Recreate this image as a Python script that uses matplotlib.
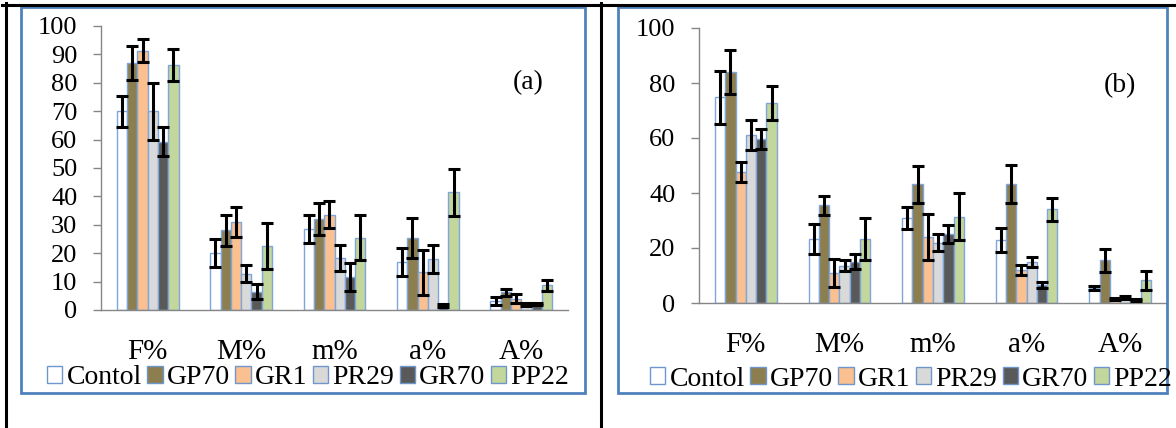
import numpy as np
import matplotlib
matplotlib.use("Agg")
from matplotlib import pyplot as plt
from matplotlib.patches import Patch, Rectangle
from matplotlib.lines import Line2D

plt.rcParams['font.family'] = ['Liberation Serif', 'DejaVu Serif']

categories = ['F%', 'M%', 'm%', 'a%', 'A%']
series = ['Contol', 'GP70', 'GR1', 'PR29', 'GR70', 'PP22']
colors = ['#FFFFFF', '#8C7E4E', '#FAC090', '#D9D9D9', '#595959', '#C3D69B']

# panel (a): one row per series, one column per category
means_a = [[70, 20, 28.6, 17, 3.2],
           [87, 28, 32, 25.4, 6.2],
           [91.3, 31, 33.6, 13.3, 4],
           [70, 12.7, 18.4, 18, 2],
           [59.3, 6.5, 11.7, 1.5, 2],
           [86.3, 22.5, 25.5, 41.4, 8.7]]
errs_a = [[5.5, 5, 5, 5, 1.3],
          [6, 5.5, 5.7, 7, 1.2],
          [4, 5.3, 4.7, 8, 1.7],
          [10, 3, 4.5, 5, 0.5],
          [5, 2.5, 5, 0.5, 0.4],
          [5.5, 8, 8, 8.4, 1.9]]

# panel (b)
means_b = [[74.8, 23.3, 30.8, 22.9, 5.5],
           [84, 35.5, 43.2, 43.2, 15.5],
           [47.5, 11, 23.9, 12, 1.5],
           [61.2, 13.6, 22, 15, 2],
           [59.5, 15, 25, 6.5, 1],
           [72.8, 23.3, 31.4, 34.1, 8.2]]
errs_b = [[9.7, 5.6, 4, 4.3, 0.8],
          [8, 3.5, 6.8, 7, 4.3],
          [3.6, 5, 8.4, 1.7, 0.5],
          [5.5, 2, 3, 1.8, 0.5],
          [3.6, 2.7, 3.2, 1.2, 0.3],
          [6.2, 7.7, 8.5, 4.2, 3.5]]

W, H = 1176, 428
fig = plt.figure(figsize=(W / 100, H / 100), dpi=100)


def px(x, y):
    # pixel coords (from top-left) to figure fraction
    return x / W, 1 - y / H


def box(x0, y0, x1, y1, color, lw):
    (a, b), (c, d) = px(x0, y1), px(x1, y0)
    fig.add_artist(Rectangle((a, b), c - a, d - b, transform=fig.transFigure,
                             fill=False, edgecolor=color, linewidth=lw))


def vline(x, y0, y1, color, lw):
    (a, b), (c, d) = px(x, y0), px(x, y1)
    fig.add_artist(Line2D([a, c], [b, d], transform=fig.transFigure, color=color, linewidth=lw))


# table lines
(a, b), (c, d) = px(2, 4.5), px(1176, 4.5)
fig.add_artist(Line2D([a, c], [b, d], transform=fig.transFigure, color='black', linewidth=2.2))
vline(6, 3, 428, 'black', 2.2)
vline(601, 3, 428, 'black', 2.2)

# blue chart frames
box(21, 7, 585, 393, '#4F81BD', 2)
box(618, 7, 1167, 393, '#4F81BD', 2)


def panel(left, right, bottom, top, means, errs, ystep, label, lab_xy, leg_xy):
    l, bt = px(left, bottom)
    r, tp = px(right, top)
    ax = fig.add_axes([l, bt, r - l, tp - bt])
    x = np.arange(len(categories))
    w = 0.11
    for i, name in enumerate(series):
        pos = x + (i - 2.5) * w
        ax.bar(pos, means[i], w, color=colors[i], edgecolor='#7EA6DC', linewidth=1, zorder=2)
        ax.errorbar(pos, means[i], yerr=errs[i], fmt='none', ecolor='black',
                    elinewidth=2.2, capsize=4, capthick=2.2, zorder=3)
    ax.set_xlim(-0.5, len(categories) - 0.5)
    ax.set_ylim(0, 100)
    ax.set_yticks(np.arange(0, 101, ystep))
    ax.set_xticks(x)
    ax.set_xticklabels(categories)
    ax.tick_params(axis='x', length=0, pad=21, labelsize=21)
    ax.tick_params(axis='y', length=6, width=1, color='#868686', pad=11, labelsize=19, direction='out')
    for s in ['top', 'right']:
        ax.spines[s].set_visible(False)
    for s in ['left', 'bottom']:
        ax.spines[s].set_color('#868686')
        ax.spines[s].set_linewidth(1)
    ax.patch.set_alpha(0)
    fx, fy = px(*lab_xy)
    fig.text(fx, fy, label, fontsize=20, ha='center', va='center')
    handles = [Patch(facecolor=c, edgecolor='#6F97CC', linewidth=1) for c in colors]
    lx, ly = px(*leg_xy)
    fig.legend(handles, series, loc='center left', bbox_to_anchor=(lx, ly), ncol=6,
               frameon=False, fontsize=20, handlelength=0.55, handleheight=0.55,
               handletextpad=0.15, columnspacing=0.2, borderpad=0, borderaxespad=0)
    return ax


panel(101, 568, 310, 26, means_a, errs_a, 10, '(a)', (528, 83), (47, 378))
panel(699, 1167, 303, 28, means_b, errs_b, 20, '(b)', (1120, 86), (650, 379))

fig.savefig('out.png', dpi=100)
